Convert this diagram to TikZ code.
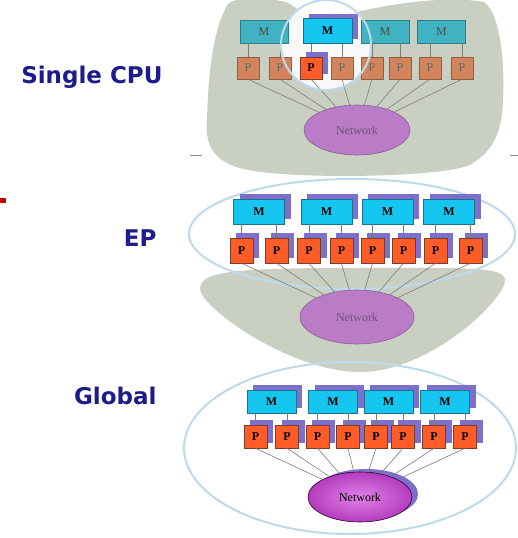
\documentclass[tikz,border=0pt]{standalone}
\usepackage{fontspec}
\setmainfont{Liberation Serif}
\newfontfamily\labelfont{DejaVu Sans}
\usetikzlibrary{shapes.geometric,shadows}

\definecolor{blob}{RGB}{201,208,193}
\definecolor{ring}{RGB}{188,218,236}
\definecolor{mbright}{RGB}{20,198,240}
\definecolor{mdull}{RGB}{64,178,194}
\definecolor{mborder}{RGB}{30,110,140}
\definecolor{pbright}{RGB}{255,92,40}
\definecolor{pdull}{RGB}{212,132,92}
\definecolor{pborder}{RGB}{120,60,40}
\definecolor{shade}{RGB}{124,112,204}
\definecolor{netdull}{RGB}{186,124,198}
\definecolor{netdullborder}{RGB}{140,90,150}
\definecolor{nettext}{RGB}{110,88,112}
\definecolor{wire}{RGB}{125,125,120}
\definecolor{labelblue}{RGB}{28,28,140}
\definecolor{marker}{RGB}{200,0,0}

\tikzset{
  box/.style={draw=mborder, line width=0.5pt, inner sep=0pt, font=\bfseries\fontsize{12}{12}\selectfont},
  mem/.style={box, minimum width=#1, fill=mbright},
  memdull/.style={box, minimum width=48pt, minimum height=23pt, fill=mdull, draw=mdull!70!black, text=black!70, font=\fontsize{12}{12}\selectfont},
  cpu/.style={box, draw=pborder, fill=pbright},
  cpudull/.style={box, draw=pdull!70!black, fill=pdull, minimum width=22pt, minimum height=22pt, text=black!60, font=\fontsize{12}{12}\selectfont},
  shadowed/.style={drop shadow={shadow xshift=6pt, shadow yshift=5pt, fill=shade, opacity=1}},
  netdullstyle/.style={ellipse, draw=netdullborder, fill=netdull, line width=0.6pt, text=nettext, font=\fontsize{12}{12}\selectfont, inner sep=0pt},
  wirestyle/.style={draw=wire, line width=0.6pt},
  ringstyle/.style={draw=ring, line width=2pt},
  caption/.style={text=labelblue, font=\labelfont\bfseries\fontsize{23}{23}\selectfont, anchor=east},
}

\begin{document}
\begin{tikzpicture}[x=1pt,y=-1pt]
\useasboundingbox (0,0) rectangle (518,538);
\fill[white] (0,0) rectangle (518,538);

% ---------- single CPU ----------
\fill[blob] (228,4) .. controls (236,-4) and (270,-2) .. (286,2)
  .. controls (296,6) and (300,14) .. (310,14)
  -- (357,12) .. controls (400,2) and (450,-4) .. (484,2)
  .. controls (500,14) and (505,60) .. (503,100)
  .. controls (502,130) and (495,150) .. (470,165)
  .. controls (440,178) and (280,180) .. (240,168)
  .. controls (210,160) and (205,140) .. (207,120)
  .. controls (208,80) and (212,30) .. (228,4) -- cycle;
\draw[line width=0.8pt, black!45] (190,155) -- (202,155) (510,155) -- (518,155);
\fill[white, opacity=0.88] (326,45) circle (45);

\node[memdull] (sm1) at (264,31.5) {M};
\node[mem=49pt, minimum height=25pt, shadowed] (sm2) at (327.5,31) {M};
\node[memdull] (sm3) at (385,31.5) {M};
\node[memdull] (sm4) at (441.5,31.5) {M};

\node[cpudull] (sp1) at (248,68) {P};
\node[cpudull] (sp2) at (280,68) {P};
\node[cpu, minimum width=22pt, minimum height=22pt, shadowed] (sp3) at (311,68) {P};
\node[cpudull] (sp4) at (342,68) {P};
\node[cpudull] (sp5) at (372,68) {P};
\node[cpudull] (sp6) at (400,68) {P};
\node[cpudull] (sp7) at (430,68) {P};
\node[cpudull] (sp8) at (462,68) {P};

\node[netdullstyle, minimum width=106pt, minimum height=50pt] (snet) at (357,130) {Network};

\foreach \m/\a/\b in {sm1/sp1/sp2, sm2/sp3/sp4, sm3/sp5/sp6, sm4/sp7/sp8} {
  \draw[wirestyle] (\a.north) -- (\a.north |- \m.south);
  \draw[wirestyle] (\b.north) -- (\b.north |- \m.south);
}
\foreach \p in {sp1,sp2,sp3,sp4,sp5,sp6,sp7,sp8}
  \draw[wirestyle] (\p.south) -- (snet);
\draw[ringstyle] (326,45) circle (45);

% ---------- EP ----------
\fill[blob] (200,288) .. controls (202,272) and (230,268) .. (350,268)
  .. controls (470,268) and (506,266) .. (505,281)
  .. controls (504,300) and (430,372) .. (360,372)
  .. controls (290,372) and (198,306) .. (200,288) -- cycle;
\draw[ringstyle] (352,234) ellipse [x radius=163, y radius=55];

\foreach \n/\x in {em1/259, em2/326.5, em3/387.5, em4/449}
  \node[mem=51pt, minimum height=25pt, shadowed] (\n) at (\x,211.5) {M};
\foreach \n/\x in {ep1/241.5, ep2/276.5, ep3/309, ep4/341.5, ep5/372.5, ep6/403.5, ep7/435.5, ep8/470.5}
  \node[cpu, minimum width=23pt, minimum height=25pt, shadowed] (\n) at (\x,250.5) {P};

\node[netdullstyle, minimum width=114pt, minimum height=54pt] (enet) at (357,317) {Network};

\foreach \m/\a/\b in {em1/ep1/ep2, em2/ep3/ep4, em3/ep5/ep6, em4/ep7/ep8} {
  \draw[wirestyle] (\a.north) -- (\a.north |- \m.south);
  \draw[wirestyle] (\b.north) -- (\b.north |- \m.south);
}
\foreach \p in {ep1,ep2,ep3,ep4,ep5,ep6,ep7,ep8}
  \draw[wirestyle] (\p.south) -- (enet);

% ---------- Global ----------
\draw[ringstyle] (350,448) ellipse [x radius=166, y radius=86];

\foreach \n/\x in {gm1/271.5, gm2/333, gm3/388.5, gm4/445}
  \node[mem=49pt, minimum height=23pt, shadowed] (\n) at (\x,401.5) {M};
\foreach \n/\x in {gp1/255.5, gp2/287, gp3/317.5, gp4/348, gp5/376, gp6/403, gp7/434, gp8/465}
  \node[cpu, minimum width=23pt, minimum height=23pt, shadowed] (\n) at (\x,436.5) {P};

\node[ellipse, minimum width=104pt, minimum height=50pt, inner sep=0pt,
  draw=black!60!violet, line width=0.6pt,
  inner color={rgb,255:red,226;green,130;blue,234}, outer color={rgb,255:red,180;green,60;blue,190},
  drop shadow={shadow xshift=6pt, shadow yshift=3pt, fill=shade, opacity=1},
  font=\fontsize{12}{12}\selectfont] (gnet) at (360,497) {Network};

\foreach \m/\a/\b in {gm1/gp1/gp2, gm2/gp3/gp4, gm3/gp5/gp6, gm4/gp7/gp8} {
  \draw[wirestyle] (\a.north) -- (\a.north |- \m.south);
  \draw[wirestyle] (\b.north) -- (\b.north |- \m.south);
}
\foreach \p in {gp1,gp2,gp3,gp4,gp5,gp6,gp7,gp8}
  \draw[wirestyle] (\p.south) -- (gnet);

% ---------- captions ----------
\node[caption] (lsingle) at (166,77) {Single CPU};
\node[caption] (lep) at (160,238) {EP};
\node[caption] (lglobal) at (160,396) {Global};
\fill[marker] (0,198) rectangle (6,203);
\end{tikzpicture}
\end{document}
